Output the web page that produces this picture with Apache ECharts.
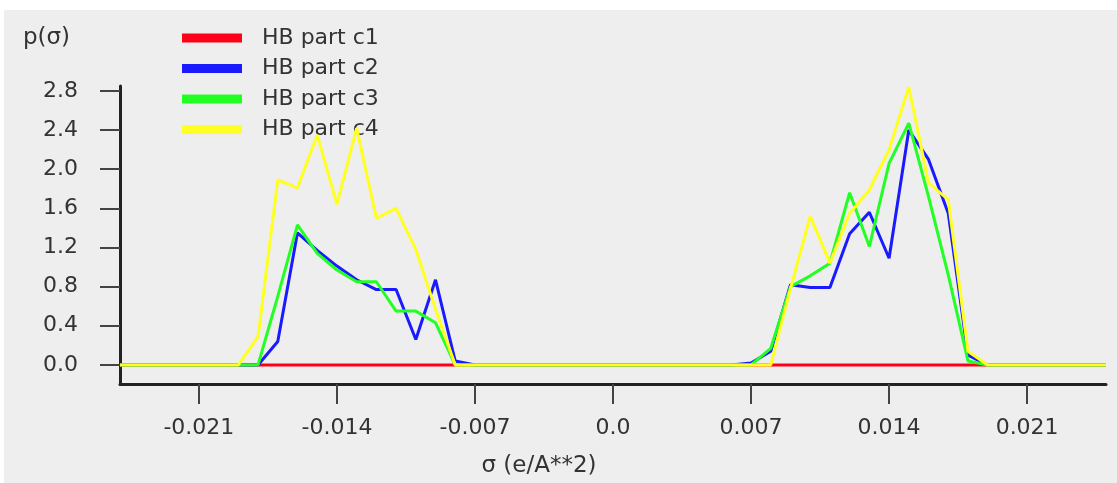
<!DOCTYPE html>
<html>
<head>
<meta charset="utf-8">
<script src="https://cdn.jsdelivr.net/npm/echarts@6/dist/echarts.min.js"></script>
<style>
  html, body { margin: 0; padding: 0; background: #ffffff; }
  #chart { position: absolute; left: 4px; top: 10px; width: 1113px; height: 473px; }
</style>
</head>
<body>
<div id="chart"></div>
<script>
const sigma = [
  -0.025, -0.024, -0.023, -0.022, -0.021, -0.020, -0.019, -0.018, -0.017, -0.016,
  -0.015, -0.014, -0.013, -0.012, -0.011, -0.010, -0.009, -0.008, -0.007, -0.006,
  -0.005, -0.004, -0.003, -0.002, -0.001, 0.000, 0.001, 0.002, 0.003, 0.004,
  0.005, 0.006, 0.007, 0.008, 0.009, 0.010, 0.011, 0.012, 0.013, 0.014,
  0.015, 0.016, 0.017, 0.018, 0.019, 0.020, 0.021, 0.022, 0.023, 0.024, 0.025
];
const hbC1 = [
  0, 0, 0, 0, 0, 0, 0, 0, 0, 0,
  0, 0, 0, 0, 0, 0, 0, 0, 0, 0,
  0, 0, 0, 0, 0, 0, 0, 0, 0, 0,
  0, 0, 0, 0, 0, 0, 0, 0, 0, 0,
  0, 0, 0, 0, 0, 0, 0, 0, 0, 0, 0
];
const hbC2 = [
  0, 0, 0, 0, 0, 0, 0, 0, 0.24, 1.35,
  1.17, 1.01, 0.87, 0.77, 0.77, 0.26, 0.87, 0.04, 0, 0,
  0, 0, 0, 0, 0, 0, 0, 0, 0, 0,
  0, 0, 0.02, 0.14, 0.82, 0.79, 0.79, 1.34, 1.56, 1.09,
  2.40, 2.10, 1.55, 0.10, 0, 0, 0, 0, 0, 0, 0
];
const hbC3 = [
  0, 0, 0, 0, 0, 0, 0, 0, 0.70, 1.43,
  1.14, 0.97, 0.85, 0.85, 0.55, 0.55, 0.43, 0, 0, 0,
  0, 0, 0, 0, 0, 0, 0, 0, 0, 0,
  0, 0, 0, 0.17, 0.80, 0.91, 1.04, 1.76, 1.21, 2.06,
  2.47, 1.72, 0.92, 0.04, 0, 0, 0, 0, 0, 0, 0
];
const hbC4 = [
  0, 0, 0, 0, 0, 0, 0, 0.29, 1.89, 1.81,
  2.35, 1.64, 2.42, 1.50, 1.60, 1.18, 0.57, 0, 0, 0,
  0, 0, 0, 0, 0, 0, 0, 0, 0, 0,
  0, 0, 0, 0, 0.78, 1.52, 1.04, 1.55, 1.79, 2.20,
  2.84, 1.86, 1.69, 0.14, 0, 0, 0, 0, 0, 0, 0
];
const seriesNames = ['HB part c1', 'HB part c2', 'HB part c3', 'HB part c4'];
const seriesColors = ['#ff0018', '#1a1aff', '#22ff22', '#ffff22'];
const xTicks = [-0.021, -0.014, -0.007, 0.0, 0.007, 0.014, 0.021];
const yTicks = [0.0, 0.4, 0.8, 1.2, 1.6, 2.0, 2.4, 2.8];
const xName = 'σ (e/A**2)';
const yName = 'p(σ)';

const FONT = 'DejaVu Sans';
const allData = [hbC1, hbC2, hbC3, hbC4];

const chart = echarts.init(document.getElementById('chart'));
chart.setOption({
  backgroundColor: '#eeeeee',
  animation: false,
  textStyle: { fontFamily: FONT },
  grid: { left: 116, right: 11, top: 76, bottom: 99, containLabel: false },
  legend: {
    orient: 'vertical',
    left: 178,
    top: 17,
    padding: 0,
    itemWidth: 60,
    itemHeight: 9,
    itemGap: 8.5,
    icon: 'rect',
    data: seriesNames,
    textStyle: { fontFamily: FONT, fontSize: 22, color: '#333333', lineHeight: 20, padding: [0, 0, 0, 15] }
  },
  xAxis: {
    type: 'value',
    min: -0.025,
    max: 0.025,
    name: xName,
    nameLocation: 'middle',
    nameGap: 82,
    nameTextStyle: { fontFamily: FONT, fontSize: 23, color: '#333333', align: 'center', verticalAlign: 'middle', padding: [0, 148, 0, 0] },
    axisLine: { show: true, onZero: false, lineStyle: { color: '#222222', width: 3 } },
    axisTick: { show: true, inside: false, length: 20, customValues: xTicks, lineStyle: { color: '#444444', width: 2 } },
    axisLabel: {
      show: true, margin: 33, fontFamily: FONT, fontSize: 22, color: '#333333',
      customValues: xTicks,
      formatter: function (v) { return Math.abs(v) < 1e-9 ? '0.0' : v.toFixed(3); }
    },
    splitLine: { show: false }
  },
  yAxis: {
    type: 'value',
    min: -0.195,
    max: 2.85,
    name: yName,
    nameLocation: 'end',
    nameGap: 48,
    nameTextStyle: { fontFamily: FONT, fontSize: 23, color: '#333333', align: 'right', verticalAlign: 'middle', padding: [0, 50, 0, 0] },
    axisLine: { show: true, onZero: false, lineStyle: { color: '#222222', width: 3 } },
    axisTick: { show: true, inside: false, length: 20, customValues: yTicks, lineStyle: { color: '#444444', width: 2 } },
    axisLabel: {
      show: true, margin: 42, fontFamily: FONT, fontSize: 22, color: '#333333',
      customValues: yTicks,
      formatter: function (v) { return v.toFixed(1); }
    },
    splitLine: { show: false }
  },
  series: seriesNames.map(function (name, k) {
    return {
      name: name,
      type: 'line',
      data: sigma.map(function (s, i) { return [s, allData[k][i]]; }),
      showSymbol: false,
      symbol: 'none',
      lineStyle: { color: seriesColors[k], width: 3 },
      itemStyle: { color: seriesColors[k] },
      z: 2 + k
    };
  })
});
</script>
</body>
</html>
